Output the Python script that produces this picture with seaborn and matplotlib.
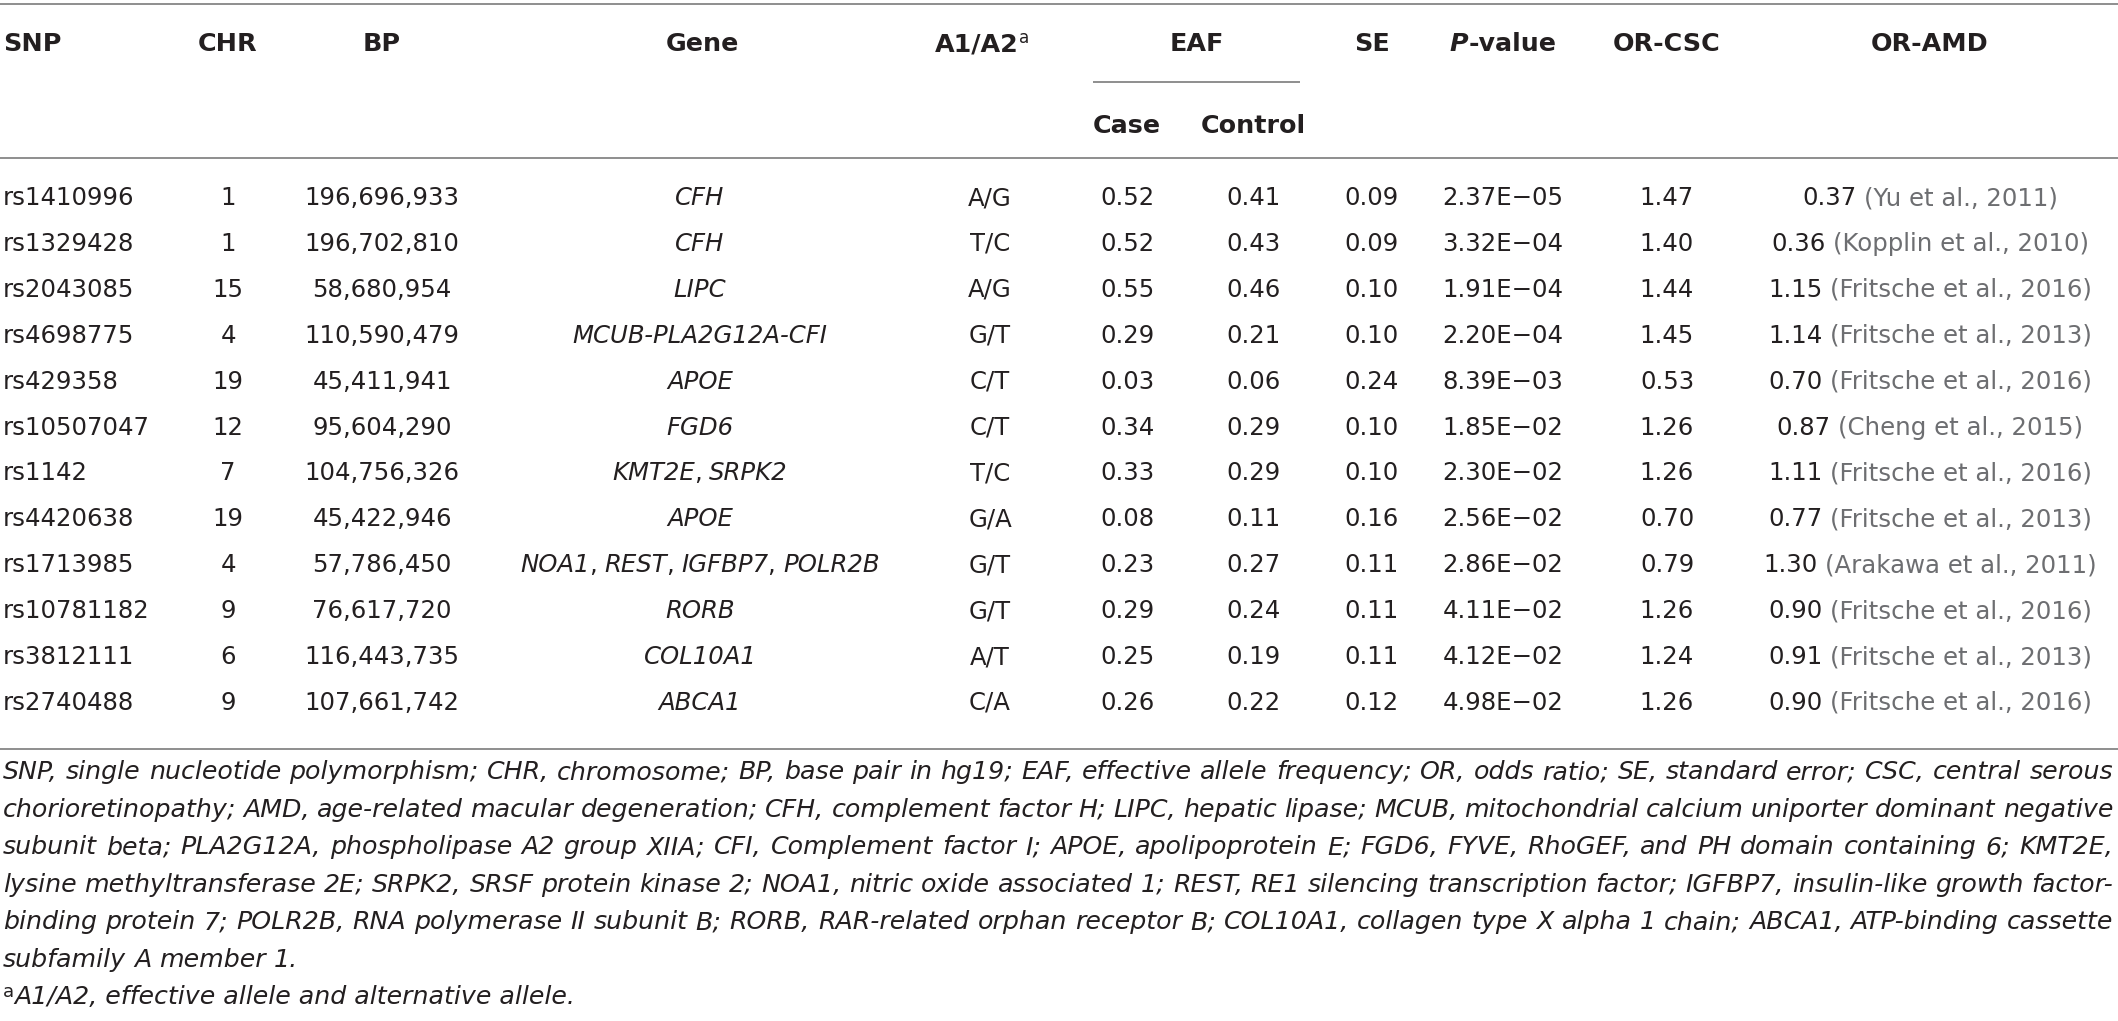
import matplotlib
matplotlib.use("Agg")
import matplotlib.pyplot as plt
import seaborn as sns

# ---------------- data ----------------
snps = ["rs1410996", "rs1329428", "rs2043085", "rs4698775", "rs429358", "rs10507047",
        "rs1142", "rs4420638", "rs1713985", "rs10781182", "rs3812111", "rs2740488"]
chrs = ["1", "1", "15", "4", "19", "12", "7", "19", "4", "9", "6", "9"]
bps = ["196,696,933", "196,702,810", "58,680,954", "110,590,479", "45,411,941", "95,604,290",
       "104,756,326", "45,422,946", "57,786,450", "76,617,720", "116,443,735", "107,661,742"]
genes = ["CFH", "CFH", "LIPC", "MCUB-PLA2G12A-CFI", "APOE", "FGD6", "KMT2E, SRPK2", "APOE",
         "NOA1, REST, IGFBP7, POLR2B", "RORB", "COL10A1", "ABCA1"]
alleles = ["A/G", "T/C", "A/G", "G/T", "C/T", "C/T", "T/C", "G/A", "G/T", "G/T", "A/T", "C/A"]
eaf_case = ["0.52", "0.52", "0.55", "0.29", "0.03", "0.34", "0.33", "0.08", "0.23", "0.29", "0.25", "0.26"]
eaf_control = ["0.41", "0.43", "0.46", "0.21", "0.06", "0.29", "0.29", "0.11", "0.27", "0.24", "0.19", "0.22"]
se_vals = ["0.09", "0.09", "0.10", "0.10", "0.24", "0.10", "0.10", "0.16", "0.11", "0.11", "0.11", "0.12"]
p_vals = ["2.37E\u221205", "3.32E\u221204", "1.91E\u221204", "2.20E\u221204", "8.39E\u221203", "1.85E\u221202",
          "2.30E\u221202", "2.56E\u221202", "2.86E\u221202", "4.11E\u221202", "4.12E\u221202", "4.98E\u221202"]
or_csc = ["1.47", "1.40", "1.44", "1.45", "0.53", "1.26", "1.26", "0.70", "0.79", "1.26", "1.24", "1.26"]
or_amd = ["0.37", "0.36", "1.15", "1.14", "0.70", "0.87", "1.11", "0.77", "1.30", "0.90", "0.91", "0.90"]
amd_refs = ["(Yu et al., 2011)", "(Kopplin et al., 2010)", "(Fritsche et al., 2016)", "(Fritsche et al., 2013)",
            "(Fritsche et al., 2016)", "(Cheng et al., 2015)", "(Fritsche et al., 2016)", "(Fritsche et al., 2013)",
            "(Arakawa et al., 2011)", "(Fritsche et al., 2016)", "(Fritsche et al., 2013)", "(Fritsche et al., 2016)"]

footnote_lines = [
    "SNP, single nucleotide polymorphism; CHR, chromosome; BP, base pair in hg19; EAF, effective allele frequency; OR, odds ratio; SE, standard error; CSC, central serous",
    "chorioretinopathy; AMD, age-related macular degeneration; CFH, complement factor H; LIPC, hepatic lipase; MCUB, mitochondrial calcium uniporter dominant negative",
    "subunit beta; PLA2G12A, phospholipase A2 group XIIA; CFI, Complement factor I; APOE, apolipoprotein E; FGD6, FYVE, RhoGEF, and PH domain containing 6; KMT2E,",
    "lysine methyltransferase 2E; SRPK2, SRSF protein kinase 2; NOA1, nitric oxide associated 1; REST, RE1 silencing transcription factor; IGFBP7, insulin-like growth factor-",
    "binding protein 7; POLR2B, RNA polymerase II subunit B; RORB, RAR-related orphan receptor B; COL10A1, collagen type X alpha 1 chain; ABCA1, ATP-binding cassette",
    "subfamily A member 1.",
]
footnote_a = "A1/A2, effective allele and alternative allele."

# ---------------- style ----------------
sns.set_theme(style="white")
plt.rcParams["font.family"] = ["DejaVu Sans"]

W, H = 2118, 1021
fig = plt.figure(figsize=(W / 100, H / 100), dpi=100)
ax = fig.add_axes([0, 0, 1, 1])
ax.set_xlim(0, W)
ax.set_ylim(H, 0)
ax.axis("off")
renderer = fig.canvas.get_renderer()

TXT = "#231f20"
GREY = "#6d6e71"
RULE = "#8e8e8e"
FS = 17.6      # body
FSH = 18.3     # header
FSF = 14.6     # footnote (refitted below)

body = dict(fontsize=FS, color=TXT)
body_i = dict(fontsize=FS, color=TXT, style="italic")
head = dict(fontsize=FSH, color=TXT, weight="bold")


def width_of(s, props):
    t = ax.text(0, 0, s, **props)
    w = t.get_window_extent(renderer).width
    t.remove()
    return w


def space_of(props):
    return width_of("n n", props) - width_of("nn", props)


def draw_runs(x, y, parts, ha="center"):
    """parts: list of (text, props, gap_before_px, dy)"""
    ws = [width_of(s, p) for s, p, g, dy in parts]
    total = sum(ws) + sum(g for _, _, g, _ in parts)
    if ha == "center":
        cx = x - total / 2
    elif ha == "left":
        cx = x
    else:
        cx = x - total
    for (s, p, g, dy), w in zip(parts, ws):
        cx += g
        ax.text(cx, y + dy, s, ha="left", va="baseline", **p)
        cx += w


# ---------------- rules ----------------
ax.hlines([4, 158, 749], 0, W, colors=RULE, lw=1.4)
ax.hlines(82, 1093, 1300, colors=RULE, lw=1.4)

# ---------------- header ----------------
hy = 51
ax.text(3, hy, "SNP", ha="left", va="baseline", **head)
ax.text(228, hy, "CHR", ha="center", va="baseline", **head)
ax.text(382, hy, "BP", ha="center", va="baseline", **head)
ax.text(702, hy, "Gene", ha="center", va="baseline", **head)
draw_runs(982, hy, [("A1/A2", head, 0, 0),
                    ("a", dict(fontsize=FSH * 0.66, color=TXT), 0, -8)])
ax.text(1197, hy, "EAF", ha="center", va="baseline", **head)
ax.text(1372, hy, "SE", ha="center", va="baseline", **head)
draw_runs(1503, hy, [("P", dict(head, style="italic"), 0, 0), ("-value", head, 0, 0)])
ax.text(1667, hy, "OR-CSC", ha="center", va="baseline", **head)
ax.text(1930, hy, "OR-AMD", ha="center", va="baseline", **head)
ax.text(1127, 133, "Case", ha="center", va="baseline", **head)
ax.text(1253, 133, "Control", ha="center", va="baseline", **head)

# ---------------- body ----------------
row0, dr = 205, 45.9
sp_b = space_of(body)
for i in range(len(snps)):
    y = row0 + i * dr
    ax.text(3, y, snps[i], ha="left", va="baseline", **body)
    ax.text(228, y, chrs[i], ha="center", va="baseline", **body)
    ax.text(382, y, bps[i], ha="center", va="baseline", **body)
    # gene names italic, separating commas upright
    names = genes[i].split(", ")
    parts = []
    for k, nm in enumerate(names):
        parts.append((nm, body_i, sp_b if k > 0 else 0, 0))
        if k < len(names) - 1:
            parts.append((",", body, -1, 0))
    draw_runs(700, y, parts)
    ax.text(990, y, alleles[i], ha="center", va="baseline", **body)
    ax.text(1127, y, eaf_case[i], ha="center", va="baseline", **body)
    ax.text(1253, y, eaf_control[i], ha="center", va="baseline", **body)
    ax.text(1372, y, se_vals[i], ha="center", va="baseline", **body)
    ax.text(1503, y, p_vals[i], ha="center", va="baseline", **body)
    ax.text(1667, y, or_csc[i], ha="center", va="baseline", **body)
    draw_runs(1930, y, [(or_amd[i], body, 0, 0),
                        (amd_refs[i], dict(fontsize=FS, color=GREY), sp_b, 0)])

# ---------------- footnotes ----------------
left, right = 3, 2113
foot = dict(fontsize=FSF, color=TXT, style="italic")
sp0 = space_of(foot)
nat = []
for line in footnote_lines[:-1]:
    words = line.split(" ")
    nat.append(sum(width_of(w, foot) for w in words) + sp0 * 0.9 * (len(words) - 1))
FSF = FSF * (right - left) / max(nat)
foot = dict(fontsize=FSF, color=TXT, style="italic")
sp_f = space_of(foot)

fy0, fdy = 779, 37.5
for j, line in enumerate(footnote_lines):
    y = fy0 + j * fdy
    words = line.split(" ")
    ws = [width_of(w, foot) for w in words]
    if j < len(footnote_lines) - 1:
        gap = (right - left - sum(ws)) / (len(words) - 1)
    else:
        gap = sp_f
    cx = left
    for w, wd in zip(words, ws):
        ax.text(cx, y, w, ha="left", va="baseline", **foot)
        cx += wd + gap

ya = fy0 + len(footnote_lines) * fdy
draw_runs(3, ya, [("a", dict(fontsize=FSF * 0.72, color=TXT), 0, -7),
                  (footnote_a, foot, 0, 0)], ha="left")

fig.savefig("out.png", dpi=100, facecolor="white")
